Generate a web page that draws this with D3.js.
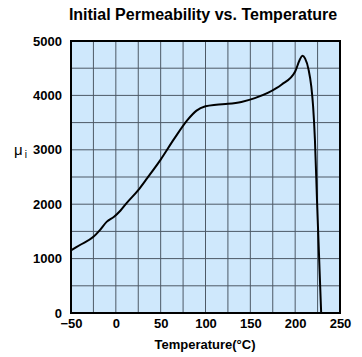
<!DOCTYPE html>
<html><head><meta charset="utf-8">
<script src="https://cdn.jsdelivr.net/npm/d3@7"></script>
<style>body{margin:0;background:#fff;} text{font-family:"Liberation Sans",Arial,sans-serif;}</style>
</head><body>
<svg id="c" width="362" height="357"></svg>
<script>
const temps = [-50,-40,-25,-18,-10,-2,5,12,25,35,50,65,80,90,100,112,125,140,155,170,185,200,205,208,211,215,218,220,222,224.5,229];
const mu    = [1150,1250,1400,1520,1680,1770,1880,2020,2260,2480,2820,3200,3550,3720,3800,3830,3845,3880,3950,4050,4200,4440,4650,4730,4680,4470,4160,3800,3200,2000,0];
const xTicks = [-50,0,50,100,150,200,250];
const yTicks = [0,1000,2000,3000,4000,5000];
const title = "Initial Permeability vs. Temperature";
const xTitle = "Temperature(\u00B0C)";

const svg = d3.select("#c");
const L=71, R=340, T=41, B=313;
const x = d3.scaleLinear().domain([-50,250]).range([L,R]);
const y = d3.scaleLinear().domain([0,5000]).range([B,T]);

svg.append("rect").attr("x",L).attr("y",T).attr("width",R-L).attr("height",B-T).attr("fill","#cfe8fc");

const g = svg.append("g");
g.selectAll("line.vx").data(d3.range(-25,250,25)).enter().append("line")
  .attr("x1",d=>x(d)).attr("x2",d=>x(d)).attr("y1",T).attr("y2",B)
  .attr("stroke","#4d5966").attr("stroke-width",1);
g.selectAll("line.hy").data(d3.range(500,5000,500)).enter().append("line")
  .attr("y1",d=>y(d)).attr("y2",d=>y(d)).attr("x1",L).attr("x2",R)
  .attr("stroke","#4d5966").attr("stroke-width",1);

const line = d3.line().x((d,i)=>x(temps[i])).y(d=>y(d)).curve(d3.curveMonotoneX);
svg.append("path").attr("d",line(mu)).attr("fill","none").attr("stroke","#000").attr("stroke-width",2);

svg.append("rect").attr("x",L).attr("y",T).attr("width",R-L).attr("height",B-T).attr("fill","none").attr("stroke","#000").attr("stroke-width",2);

const xa = svg.append("g").attr("transform",`translate(0,${B})`)
  .call(d3.axisBottom(x).tickValues(xTicks).tickSize(0).tickPadding(6).tickFormat(d3.format("d")));
xa.select(".domain").remove();
xa.selectAll("text").attr("font-size","13px").attr("font-weight","bold").attr("fill","#000").style("font-family","'Liberation Sans',Arial,sans-serif");

const ya = svg.append("g").attr("transform",`translate(${L},0)`)
  .call(d3.axisLeft(y).tickValues(yTicks).tickSize(0).tickPadding(9).tickFormat(d3.format("d")));
ya.select(".domain").remove();
ya.selectAll("text").attr("font-size","13px").attr("font-weight","bold").attr("fill","#000").style("font-family","'Liberation Sans',Arial,sans-serif");

svg.append("text").attr("x",203).attr("y",20).attr("text-anchor","middle")
  .attr("font-size","16px").attr("font-weight","bold").text(title);
svg.append("text").attr("x",205).attr("y",349).attr("text-anchor","middle")
  .attr("font-size","13px").attr("font-weight","bold").text(xTitle);
const ml = svg.append("text").attr("x",14).attr("y",155).attr("font-size","15px");
ml.append("tspan").text("\u03BC");
ml.append("tspan").attr("dy",3).attr("dx",2).attr("font-size","10px").text("i");
</script>
</body></html>
